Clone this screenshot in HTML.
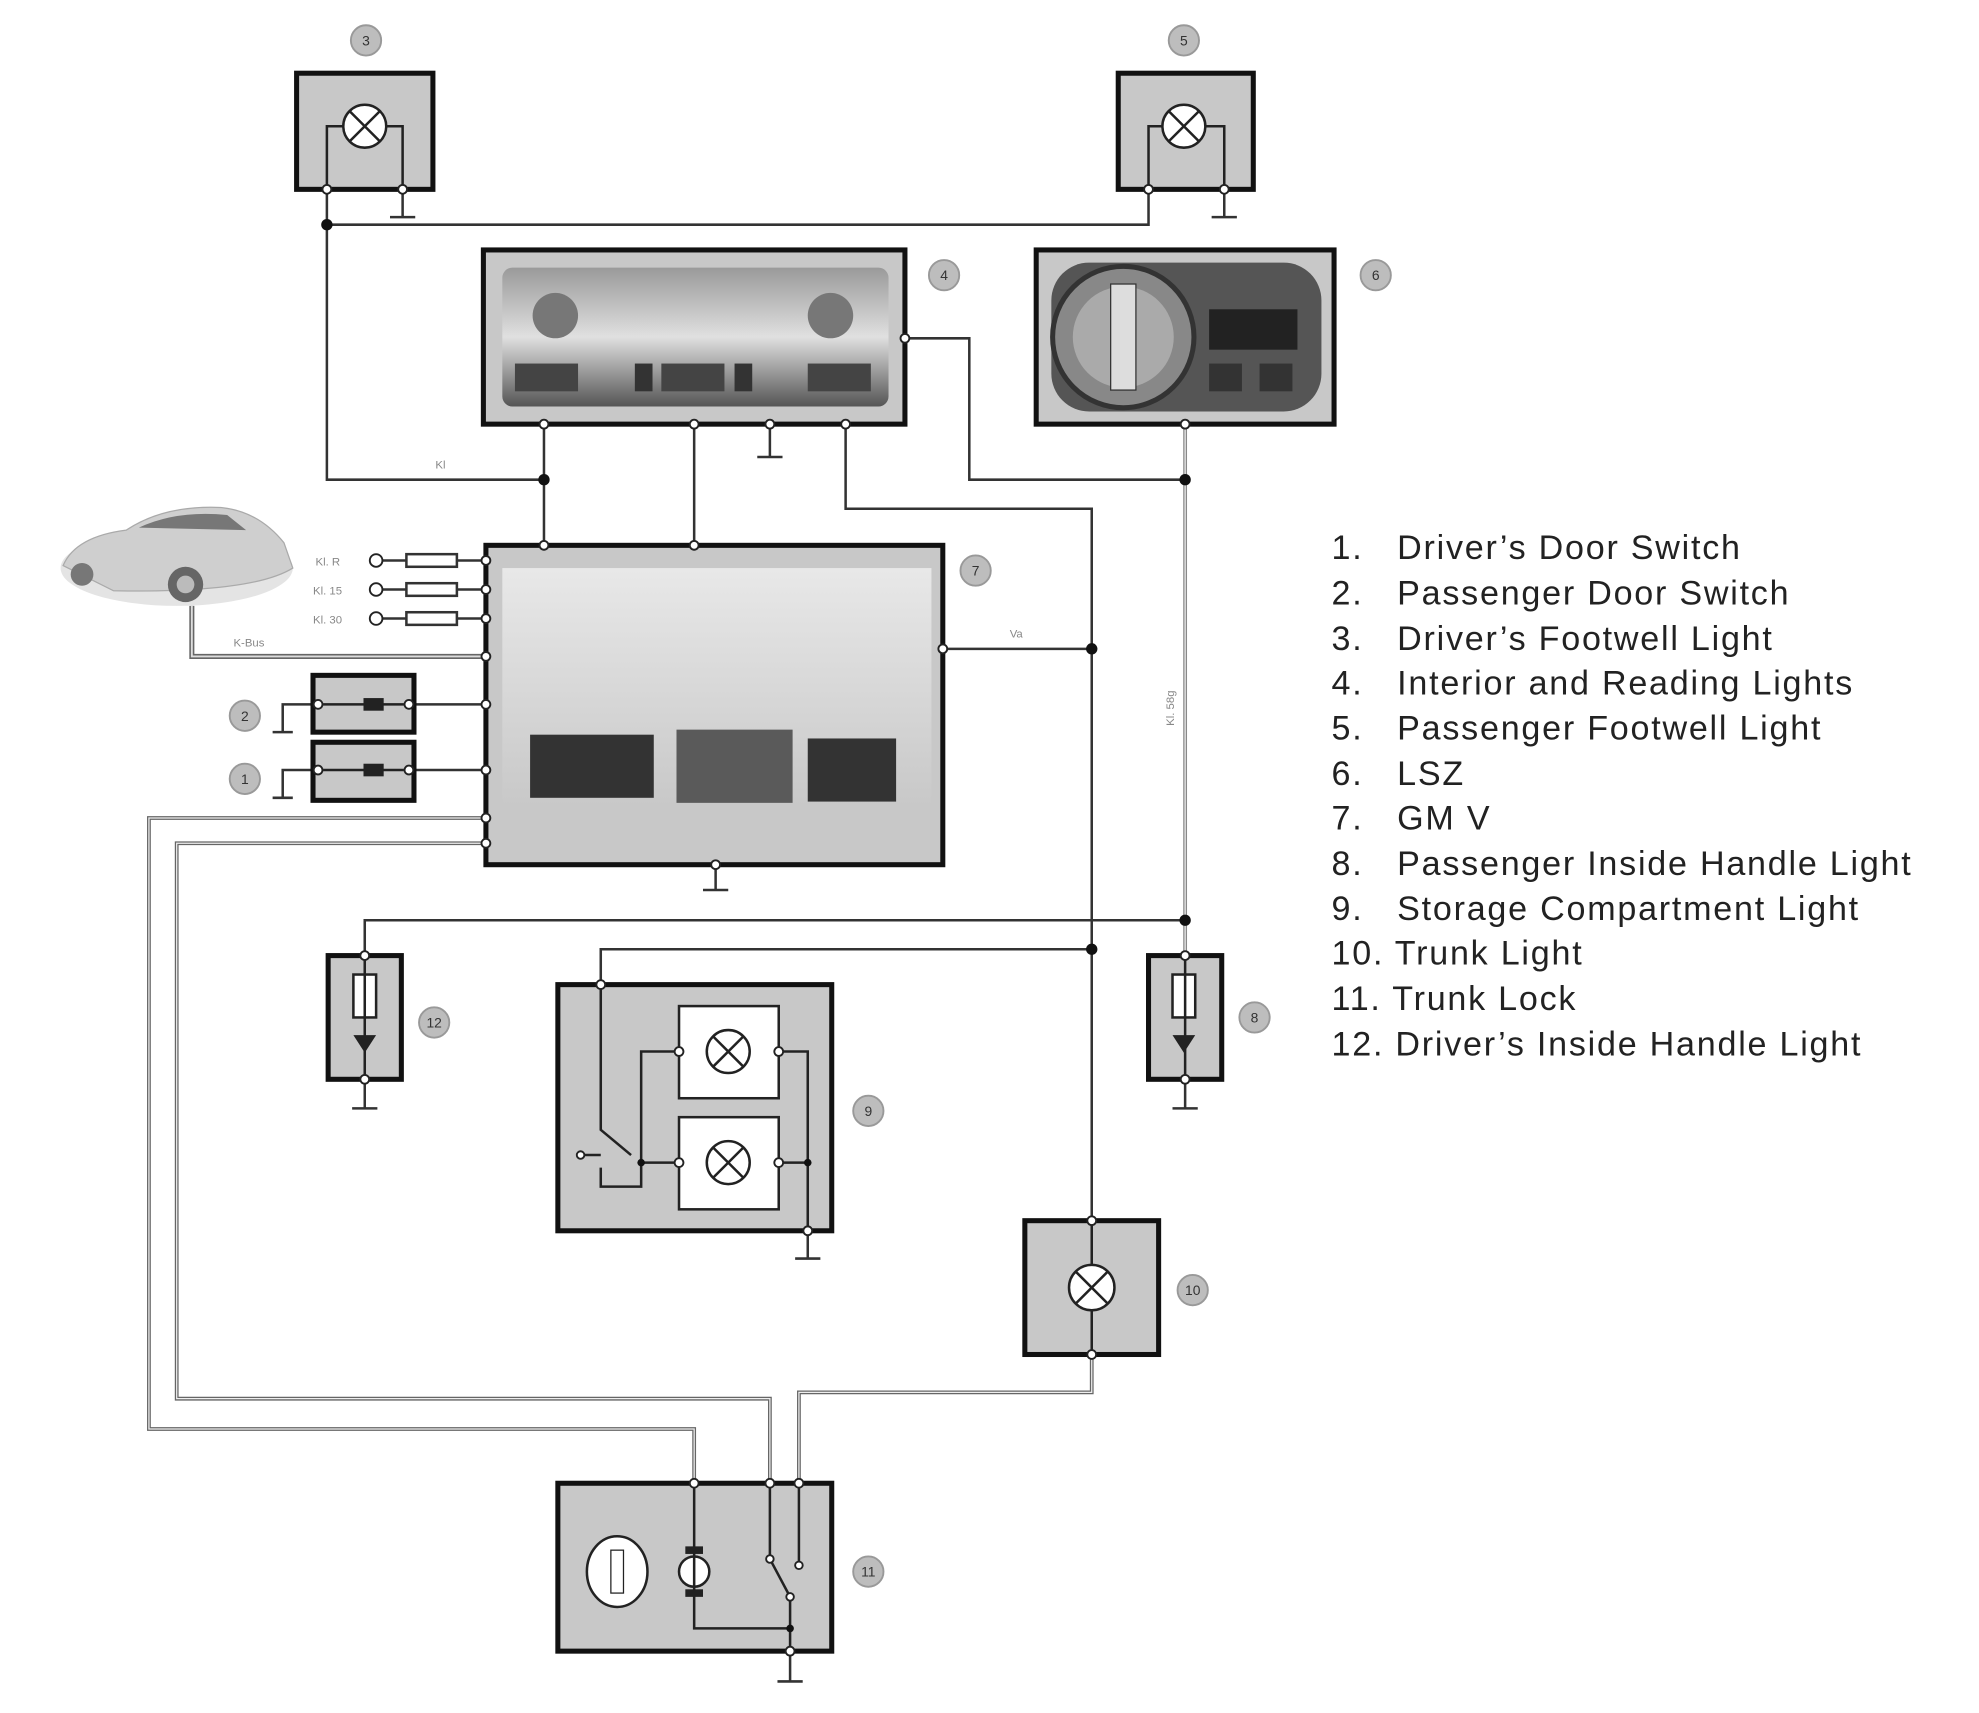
<!DOCTYPE html>
<html><head><meta charset="utf-8"><style>
html,body{margin:0;padding:0;background:#fff;}
svg{display:block;}
text{font-family:"Liberation Sans",sans-serif;}
</style></head><body>
<svg width="1979" height="1713" viewBox="0 0 1568 1357" preserveAspectRatio="none" xmlns="http://www.w3.org/2000/svg">
<defs>
<linearGradient id="g4" x1="0" y1="0" x2="0" y2="1"><stop offset="0" stop-color="#9a9a9a"/><stop offset="0.5" stop-color="#e0e0e0"/><stop offset="1" stop-color="#555"/></linearGradient>
<linearGradient id="g7" x1="0" y1="0" x2="0" y2="1"><stop offset="0" stop-color="#e8e8e8"/><stop offset="1" stop-color="#c8c8c8"/></linearGradient>
</defs>
<g fill="none" stroke="#333" stroke-width="2">
<polyline points="259,150 259,380 431,380"/>
<polyline points="259,178 910,178 910,150"/>
<line x1="431" y1="336" x2="431" y2="432"/>
<line x1="550" y1="336" x2="550" y2="432"/>
<polyline points="670,336 670,403 865,403 865,967"/>
<polyline points="717,268 768,268 768,380 939,380"/>
<line x1="939" y1="336" x2="939" y2="757" stroke="#888" stroke-width="3"/>
<line x1="939" y1="336" x2="939" y2="757" stroke="#eee" stroke-width="1"/>
<polyline points="747,514 865,514"/>
<polyline points="289,757 289,729 939,729"/>
<polyline points="476,780 476,752 865,752"/>
<polyline points="865,1073 865,1103 633,1103 633,1175" stroke="#666" stroke-width="3"/>
<polyline points="865,1073 865,1103 633,1103 633,1175" stroke="#eee" stroke-width="1"/>
<polyline points="385,648 118,648 118,1132 550,1132 550,1175" stroke="#666" stroke-width="3"/>
<polyline points="385,648 118,648 118,1132 550,1132 550,1175" stroke="#eee" stroke-width="1"/>
<polyline points="385,668 140,668 140,1108 610,1108 610,1175" stroke="#666" stroke-width="3"/>
<polyline points="385,668 140,668 140,1108 610,1108 610,1175" stroke="#eee" stroke-width="1"/>
<polyline points="152,480 152,520 385,520" stroke="#666" stroke-width="4"/>
<polyline points="152,480 152,520 385,520" stroke="#ddd" stroke-width="1.5"/>
<line x1="298" y1="444" x2="385" y2="444"/><line x1="298" y1="467" x2="385" y2="467"/><line x1="298" y1="490" x2="385" y2="490"/>
<rect x="322" y="439" width="40" height="10" fill="#fff"/><rect x="322" y="462" width="40" height="10" fill="#fff"/><rect x="322" y="485" width="40" height="10" fill="#fff"/>
<line x1="328" y1="558" x2="385" y2="558"/><line x1="328" y1="610" x2="385" y2="610"/>
<g stroke="#333" stroke-width="2">
<line x1="319" y1="150" x2="319" y2="172"/><line x1="309" y1="172" x2="329" y2="172"/>
<line x1="970" y1="150" x2="970" y2="172"/><line x1="960" y1="172" x2="980" y2="172"/>
<line x1="610" y1="336" x2="610" y2="362"/><line x1="600" y1="362" x2="620" y2="362"/>
<line x1="567" y1="685" x2="567" y2="705"/><line x1="557" y1="705" x2="577" y2="705"/>
<line x1="289" y1="855" x2="289" y2="878"/><line x1="279" y1="878" x2="299" y2="878"/>
<line x1="939" y1="855" x2="939" y2="878"/><line x1="929" y1="878" x2="949" y2="878"/>
<line x1="640" y1="975" x2="640" y2="997"/><line x1="630" y1="997" x2="650" y2="997"/>
<line x1="626" y1="1308" x2="626" y2="1332"/><line x1="616" y1="1332" x2="636" y2="1332"/>
<polyline points="248,558 224,558 224,580"/><line x1="216" y1="580" x2="232" y2="580"/>
<polyline points="248,610 224,610 224,632"/><line x1="216" y1="632" x2="232" y2="632"/>
</g>
</g>
<g stroke="#111" stroke-width="4">
<rect x="235" y="58" width="108" height="92" fill="#c8c8c8"/>
<rect x="886" y="58" width="107" height="92" fill="#c8c8c8"/>
<rect x="383" y="198" width="334" height="138" fill="#c8c8c8"/>
<rect x="821" y="198" width="236" height="138" fill="#c8c8c8"/>
<rect x="385" y="432" width="362" height="253" fill="#c8c8c8"/>
<rect x="248" y="535" width="80" height="45" fill="#c8c8c8"/>
<rect x="248" y="588" width="80" height="46" fill="#c8c8c8"/>
<rect x="260" y="757" width="58" height="98" fill="#c8c8c8"/>
<rect x="910" y="757" width="58" height="98" fill="#c8c8c8"/>
<rect x="442" y="780" width="217" height="195" fill="#c8c8c8"/>
<rect x="812" y="967" width="106" height="106" fill="#c8c8c8"/>
<rect x="442" y="1175" width="217" height="133" fill="#c8c8c8"/>
</g>
<rect x="398" y="212" width="306" height="110" rx="8" fill="url(#g4)"/>
<circle cx="440" cy="250" r="18" fill="#777"/><circle cx="658" cy="250" r="18" fill="#777"/>
<rect x="408" y="288" width="50" height="22" fill="#444"/><rect x="524" y="288" width="50" height="22" fill="#444"/><rect x="640" y="288" width="50" height="22" fill="#444"/>
<rect x="503" y="288" width="14" height="22" fill="#333"/><rect x="582" y="288" width="14" height="22" fill="#333"/>
<rect x="833" y="208" width="214" height="118" rx="30" fill="#555"/>
<circle cx="890" cy="267" r="56" fill="#888" stroke="#333" stroke-width="4"/>
<circle cx="890" cy="267" r="40" fill="#aaa"/>
<rect x="880" y="225" width="20" height="84" fill="#ddd" stroke="#333"/>
<rect x="958" y="245" width="70" height="32" fill="#222"/>
<rect x="958" y="288" width="26" height="22" fill="#333"/><rect x="998" y="288" width="26" height="22" fill="#333"/>
<rect x="398" y="450" width="340" height="190" fill="url(#g7)"/>
<rect x="420" y="582" width="98" height="50" fill="#333"/>
<rect x="536" y="578" width="92" height="58" fill="#5a5a5a"/>
<rect x="640" y="585" width="70" height="50" fill="#333"/>
<ellipse cx="140" cy="450" rx="92" ry="30" fill="#e4e4e4"/>
<path d="M50,448 Q60,425 100,420 Q130,400 175,402 Q205,405 225,430 L232,450 Q200,470 90,468 Z" fill="#cfcfcf" stroke="#aaa"/>
<path d="M110,418 Q140,404 180,408 L195,420 Z" fill="#777"/>
<circle cx="147" cy="463" r="14" fill="#666"/><circle cx="147" cy="463" r="7" fill="#bbb"/>
<circle cx="65" cy="455" r="9" fill="#777"/>
<g fill="#fff" stroke="#222" stroke-width="2">
<circle cx="289" cy="100" r="17"/><circle cx="938" cy="100" r="17"/>
<rect x="538" y="797" width="79" height="73" fill="#fff"/>
<rect x="538" y="885" width="79" height="73" fill="#fff"/>
<circle cx="577" cy="833" r="17"/><circle cx="577" cy="921" r="17"/>
<circle cx="865" cy="1020" r="18"/>
<ellipse cx="489" cy="1245" rx="24" ry="28"/>
<circle cx="550" cy="1245" r="12"/>
<rect x="280" y="772" width="18" height="34"/><rect x="929" y="772" width="18" height="34"/>
</g>
<g stroke="#222" stroke-width="2" fill="none">
<path d="M277,88 L301,112 M301,88 L277,112 M926,88 L950,112 M950,88 L926,112 M565,821 L589,845 M589,821 L565,845 M565,909 L589,933 M589,909 L565,933 M852,1007 L878,1033 M878,1007 L852,1033"/>
<polyline points="272,100 259,100 259,150"/><polyline points="306,100 319,100 319,150"/>
<polyline points="921,100 910,100 910,150"/><polyline points="955,100 970,100 970,150"/>
<line x1="865" y1="967" x2="865" y2="1002"/><line x1="865" y1="1038" x2="865" y2="1073"/>
<line x1="289" y1="757" x2="289" y2="855"/><line x1="939" y1="757" x2="939" y2="855"/>
<polyline points="538,833 508,833 508,921 538,921"/>
<polyline points="617,833 640,833 640,975"/><line x1="617" y1="921" x2="640" y2="921"/>
<polyline points="476,780 476,895 500,915 "/><line x1="460" y1="915" x2="476" y2="915"/>
<polyline points="476,925 476,940 508,940 508,921"/>
<polyline points="550,1175 550,1290 626,1290 626,1308"/>
<polyline points="610,1175 610,1235 626,1265 626,1290"/>
<line x1="633" y1="1175" x2="633" y2="1240"/>
<line x1="256" y1="558" x2="320" y2="558"/><line x1="256" y1="610" x2="320" y2="610"/>
</g>
<rect x="484" y="1228" width="10" height="34" fill="#fff" stroke="#222"/>
<rect x="543" y="1225" width="14" height="6" fill="#222"/><rect x="543" y="1259" width="14" height="6" fill="#222"/>
<rect x="288" y="553" width="16" height="10" fill="#222"/><rect x="288" y="605" width="16" height="10" fill="#222"/>
<path d="M280,820 L298,820 L289,834 Z M929,820 L947,820 L938,834 Z" fill="#222"/>
<g fill="#fff" stroke="#222" stroke-width="1.5">
<circle cx="259" cy="150" r="3.5"/><circle cx="319" cy="150" r="3.5"/><circle cx="910" cy="150" r="3.5"/><circle cx="970" cy="150" r="3.5"/>
<circle cx="431" cy="336" r="3.5"/><circle cx="550" cy="336" r="3.5"/><circle cx="610" cy="336" r="3.5"/><circle cx="670" cy="336" r="3.5"/><circle cx="717" cy="268" r="3.5"/><circle cx="939" cy="336" r="3.5"/>
<circle cx="431" cy="432" r="3.5"/><circle cx="550" cy="432" r="3.5"/><circle cx="747" cy="514" r="3.5"/><circle cx="567" cy="685" r="3.5"/>
<circle cx="385" cy="444" r="3.5"/><circle cx="385" cy="467" r="3.5"/><circle cx="385" cy="490" r="3.5"/><circle cx="385" cy="520" r="3.5"/><circle cx="385" cy="558" r="3.5"/><circle cx="385" cy="610" r="3.5"/><circle cx="385" cy="648" r="3.5"/><circle cx="385" cy="668" r="3.5"/>
<circle cx="298" cy="444" r="5"/><circle cx="298" cy="467" r="5"/><circle cx="298" cy="490" r="5"/>
<circle cx="252" cy="558" r="3.5"/><circle cx="324" cy="558" r="3.5"/><circle cx="252" cy="610" r="3.5"/><circle cx="324" cy="610" r="3.5"/>
<circle cx="289" cy="757" r="3.5"/><circle cx="289" cy="855" r="3.5"/><circle cx="939" cy="757" r="3.5"/><circle cx="939" cy="855" r="3.5"/>
<circle cx="476" cy="780" r="3.5"/><circle cx="640" cy="975" r="3.5"/><circle cx="538" cy="833" r="3.5"/><circle cx="617" cy="833" r="3.5"/><circle cx="538" cy="921" r="3.5"/><circle cx="617" cy="921" r="3.5"/>
<circle cx="865" cy="967" r="3.5"/><circle cx="865" cy="1073" r="3.5"/>
<circle cx="550" cy="1175" r="3.5"/><circle cx="610" cy="1175" r="3.5"/><circle cx="633" cy="1175" r="3.5"/><circle cx="626" cy="1308" r="3.5"/>
<circle cx="610" cy="1235" r="3"/><circle cx="633" cy="1240" r="3"/><circle cx="626" cy="1265" r="3"/><circle cx="460" cy="915" r="3"/>
</g>
<g fill="#111">
<circle cx="259" cy="178" r="4.5"/><circle cx="431" cy="380" r="4.5"/><circle cx="939" cy="380" r="4.5"/><circle cx="865" cy="514" r="4.5"/><circle cx="939" cy="729" r="4.5"/><circle cx="865" cy="752" r="4.5"/>
<circle cx="508" cy="921" r="3"/><circle cx="640" cy="921" r="3"/><circle cx="626" cy="1290" r="3"/>
</g>
<g fill="#bdbdbd" stroke="#999" stroke-width="1.5">
<circle cx="290" cy="32" r="12"/><circle cx="938" cy="32" r="12"/><circle cx="748" cy="218" r="12"/><circle cx="1090" cy="218" r="12"/><circle cx="773" cy="452" r="12"/><circle cx="194" cy="567" r="12"/><circle cx="194" cy="617" r="12"/><circle cx="344" cy="810" r="12"/><circle cx="994" cy="806" r="12"/><circle cx="688" cy="880" r="12"/><circle cx="945" cy="1022" r="12"/><circle cx="688" cy="1245" r="12"/>
</g>
<g font-size="11" fill="#333" text-anchor="middle">
<text x="290" y="36">3</text><text x="938" y="36">5</text><text x="748" y="222">4</text><text x="1090" y="222">6</text><text x="773" y="456">7</text><text x="194" y="571">2</text><text x="194" y="621">1</text><text x="344" y="814">12</text><text x="994" y="810">8</text><text x="688" y="884">9</text><text x="945" y="1026">10</text><text x="688" y="1249">11</text>
</g>
<g font-size="9" fill="#888">
<text x="250" y="448">Kl. R</text><text x="248" y="471">Kl. 15</text><text x="248" y="494">Kl. 30</text>
<text x="185" y="512">K-Bus</text><text x="345" y="371">Kl</text><text x="800" y="505">Va</text>
<text x="930" y="575" transform="rotate(-90 930 575)">Kl. 58g</text>
</g>
<g font-size="27" fill="#222" letter-spacing="1.4">
<text x="1055" y="443">1.</text><text x="1107" y="443">Driver’s Door Switch</text>
<text x="1055" y="479">2.</text><text x="1107" y="479">Passenger Door Switch</text>
<text x="1055" y="515">3.</text><text x="1107" y="515">Driver’s Footwell Light</text>
<text x="1055" y="550">4.</text><text x="1107" y="550">Interior and Reading Lights</text>
<text x="1055" y="586">5.</text><text x="1107" y="586">Passenger Footwell Light</text>
<text x="1055" y="622">6.</text><text x="1107" y="622">LSZ</text>
<text x="1055" y="657">7.</text><text x="1107" y="657">GM V</text>
<text x="1055" y="693">8.</text><text x="1107" y="693">Passenger Inside Handle Light</text>
<text x="1055" y="729">9.</text><text x="1107" y="729">Storage Compartment Light</text>
<text x="1055" y="764">10. Trunk Light</text>
<text x="1055" y="800">11. Trunk Lock</text>
<text x="1055" y="836">12. Driver’s Inside Handle Light</text>
</g>
</svg>
</body></html>
